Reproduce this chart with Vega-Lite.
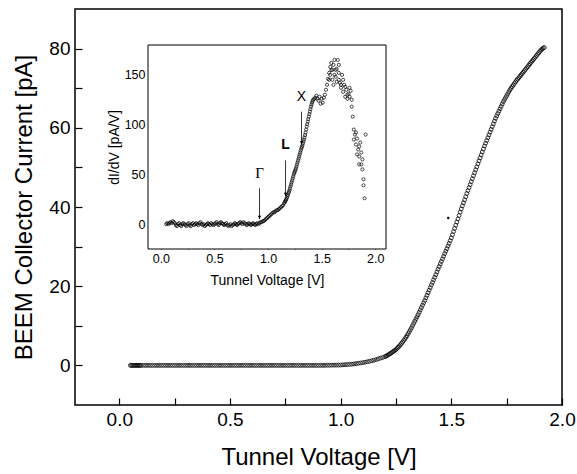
{
  "$schema": "https://vega.github.io/schema/vega-lite/v6.json",
  "width": 487,
  "height": 396,
  "autosize": "none",
  "padding": {"left": 75, "top": 9, "right": 15, "bottom": 69},
  "background": "white",
  "config": {
    "font": "Liberation Sans",
    "view": {"stroke": "black", "strokeWidth": 1.5},
    "axis": {"grid": false, "domain": false, "tickColor": "black", "labelColor": "black", "titleColor": "black", "titleFontWeight": "normal", "tickWidth": 1.2}
  },
  "datasets": {
    "main": [
      {"v":0.05,"i":0},{"v":0.055,"i":0},{"v":0.06,"i":0},{"v":0.065,"i":0},{"v":0.07,"i":0},{"v":0.075,"i":0},{"v":0.08,"i":0},{"v":0.085,"i":0},{"v":0.09,"i":0},{"v":0.095,"i":0},
      {"v":0.10,"i":0},{"v":0.11,"i":0},{"v":0.12,"i":0},{"v":0.13,"i":0},{"v":0.14,"i":0},
      {"v":0.15,"i":0},{"v":0.16,"i":0},{"v":0.17,"i":0},{"v":0.18,"i":0},{"v":0.19,"i":0},{"v":0.20,"i":0},{"v":0.21,"i":0},{"v":0.22,"i":0},{"v":0.23,"i":0},{"v":0.24,"i":0},
      {"v":0.25,"i":0},{"v":0.26,"i":0},{"v":0.27,"i":0},{"v":0.28,"i":0},{"v":0.29,"i":0},{"v":0.30,"i":0},{"v":0.31,"i":0},{"v":0.32,"i":0},{"v":0.33,"i":0},{"v":0.34,"i":0},
      {"v":0.35,"i":0},{"v":0.36,"i":0},{"v":0.37,"i":0},{"v":0.38,"i":0},{"v":0.39,"i":0},{"v":0.40,"i":0},{"v":0.41,"i":0},{"v":0.42,"i":0},{"v":0.43,"i":0},{"v":0.44,"i":0},
      {"v":0.45,"i":0},{"v":0.46,"i":0},{"v":0.47,"i":0},{"v":0.48,"i":0},{"v":0.49,"i":0},{"v":0.50,"i":0},{"v":0.51,"i":0},{"v":0.52,"i":0},{"v":0.53,"i":0},{"v":0.54,"i":0},
      {"v":0.55,"i":0},{"v":0.56,"i":0},{"v":0.57,"i":0},{"v":0.58,"i":0},{"v":0.59,"i":0},{"v":0.60,"i":0},{"v":0.61,"i":0},{"v":0.62,"i":0},{"v":0.63,"i":0},{"v":0.64,"i":0},
      {"v":0.65,"i":0},{"v":0.66,"i":0},{"v":0.67,"i":0},{"v":0.68,"i":0},{"v":0.69,"i":0},{"v":0.70,"i":0},{"v":0.71,"i":0},{"v":0.72,"i":0},{"v":0.73,"i":0},{"v":0.74,"i":0},
      {"v":0.75,"i":0},{"v":0.76,"i":0},{"v":0.77,"i":0},{"v":0.78,"i":0},{"v":0.79,"i":0},{"v":0.80,"i":0},{"v":0.81,"i":0},{"v":0.82,"i":0},{"v":0.83,"i":0},{"v":0.84,"i":0},
      {"v":0.85,"i":0},{"v":0.86,"i":0},{"v":0.87,"i":0},{"v":0.88,"i":0},{"v":0.89,"i":0},{"v":0.90,"i":0},{"v":0.91,"i":0},{"v":0.92,"i":0},{"v":0.93,"i":0.02},{"v":0.94,"i":0.03},
      {"v":0.95,"i":0.04},{"v":0.96,"i":0.05},{"v":0.97,"i":0.06},{"v":0.98,"i":0.07},{"v":0.99,"i":0.08},
      {"v":1.00,"i":0.1},{"v":1.01,"i":0.14},{"v":1.02,"i":0.18},{"v":1.03,"i":0.22},{"v":1.04,"i":0.26},{"v":1.05,"i":0.3},{"v":1.06,"i":0.37},{"v":1.07,"i":0.45},{"v":1.08,"i":0.53},{"v":1.09,"i":0.61},
      {"v":1.10,"i":0.7},{"v":1.11,"i":0.8},{"v":1.12,"i":0.92},{"v":1.13,"i":1.04},{"v":1.14,"i":1.17},{"v":1.15,"i":1.3},{"v":1.16,"i":1.46},{"v":1.17,"i":1.64},{"v":1.18,"i":1.83},{"v":1.19,"i":2.0},
      {"v":1.200,"i":2.2},{"v":1.205,"i":2.35},{"v":1.21,"i":2.5},{"v":1.215,"i":2.67},{"v":1.22,"i":2.85},{"v":1.225,"i":3.02},{"v":1.23,"i":3.2},{"v":1.235,"i":3.4},{"v":1.24,"i":3.6},{"v":1.245,"i":3.8},
      {"v":1.25,"i":4.0},{"v":1.255,"i":4.3},{"v":1.26,"i":4.6},{"v":1.265,"i":4.9},{"v":1.27,"i":5.2},{"v":1.275,"i":5.55},{"v":1.28,"i":5.9},{"v":1.285,"i":6.3},{"v":1.29,"i":6.7},{"v":1.295,"i":7.1},
      {"v":1.30,"i":7.5},{"v":1.305,"i":8.0},{"v":1.31,"i":8.5},{"v":1.315,"i":9.0},{"v":1.32,"i":9.5},{"v":1.325,"i":10.05},{"v":1.33,"i":10.6},{"v":1.335,"i":11.15},{"v":1.34,"i":11.7},{"v":1.345,"i":12.25},
      {"v":1.35,"i":12.8},{"v":1.355,"i":13.4},{"v":1.36,"i":14.0},{"v":1.365,"i":14.6},{"v":1.37,"i":15.2},{"v":1.375,"i":15.8},{"v":1.38,"i":16.4},{"v":1.385,"i":17.05},{"v":1.39,"i":17.7},{"v":1.395,"i":18.35},
      {"v":1.40,"i":19.0},{"v":1.405,"i":19.65},{"v":1.41,"i":20.3},{"v":1.415,"i":20.95},{"v":1.42,"i":21.6},{"v":1.425,"i":22.25},{"v":1.43,"i":22.9},{"v":1.435,"i":23.6},{"v":1.44,"i":24.3},{"v":1.445,"i":24.95},
      {"v":1.45,"i":25.6},{"v":1.455,"i":26.25},{"v":1.46,"i":26.9},{"v":1.465,"i":27.55},{"v":1.47,"i":28.2},{"v":1.475,"i":28.85},{"v":1.48,"i":29.5},{"v":1.485,"i":30.15},{"v":1.49,"i":30.8},{"v":1.495,"i":31.5},
      {"v":1.50,"i":32.2},{"v":1.505,"i":33.0},{"v":1.51,"i":33.8},{"v":1.515,"i":34.6},{"v":1.52,"i":35.4},{"v":1.525,"i":36.2},{"v":1.53,"i":37.0},{"v":1.535,"i":37.85},{"v":1.54,"i":38.7},{"v":1.545,"i":39.5},
      {"v":1.55,"i":40.3},{"v":1.555,"i":41.05},{"v":1.56,"i":41.8},{"v":1.565,"i":42.6},{"v":1.57,"i":43.4},{"v":1.575,"i":44.15},{"v":1.58,"i":44.9},{"v":1.585,"i":45.65},{"v":1.59,"i":46.4},{"v":1.595,"i":47.15},
      {"v":1.60,"i":47.9},{"v":1.605,"i":48.65},{"v":1.61,"i":49.4},{"v":1.615,"i":50.15},{"v":1.62,"i":50.9},{"v":1.625,"i":51.65},{"v":1.63,"i":52.4},{"v":1.635,"i":53.15},{"v":1.64,"i":53.9},{"v":1.645,"i":54.65},
      {"v":1.65,"i":55.4},{"v":1.655,"i":56.1},{"v":1.66,"i":56.8},{"v":1.665,"i":57.5},{"v":1.67,"i":58.2},{"v":1.675,"i":58.9},{"v":1.68,"i":59.6},{"v":1.685,"i":60.3},{"v":1.69,"i":61.0},{"v":1.695,"i":61.7},
      {"v":1.70,"i":62.4},{"v":1.705,"i":63.0},{"v":1.71,"i":63.6},{"v":1.715,"i":64.2},{"v":1.72,"i":64.8},{"v":1.725,"i":65.4},{"v":1.73,"i":66.0},{"v":1.735,"i":66.6},{"v":1.74,"i":67.1},{"v":1.745,"i":67.6},
      {"v":1.75,"i":68.1},{"v":1.755,"i":68.6},{"v":1.76,"i":69.1},{"v":1.765,"i":69.6},{"v":1.77,"i":70.0},{"v":1.775,"i":70.4},{"v":1.78,"i":70.8},{"v":1.785,"i":71.2},{"v":1.79,"i":71.6},{"v":1.795,"i":72.0},
      {"v":1.80,"i":72.3},{"v":1.805,"i":72.65},{"v":1.81,"i":73.0},{"v":1.815,"i":73.35},{"v":1.82,"i":73.7},{"v":1.825,"i":74.05},{"v":1.83,"i":74.4},{"v":1.835,"i":74.75},{"v":1.84,"i":75.1},{"v":1.845,"i":75.45},
      {"v":1.85,"i":75.8},{"v":1.855,"i":76.15},{"v":1.86,"i":76.5},{"v":1.865,"i":76.85},{"v":1.87,"i":77.2},{"v":1.875,"i":77.55},{"v":1.88,"i":77.9},{"v":1.885,"i":78.25},{"v":1.89,"i":78.6},{"v":1.895,"i":78.95},
      {"v":1.90,"i":79.3},{"v":1.905,"i":79.6},{"v":1.91,"i":79.9},{"v":1.915,"i":80.1},{"v":1.92,"i":80.3}
    ],
    "inset": [
      {"v":0.05,"g":0},{"v":0.06,"g":1},{"v":0.07,"g":0},{"v":0.08,"g":1},{"v":0.09,"g":2},{"v":0.10,"g":1},{"v":0.11,"g":3},{"v":0.12,"g":2},{"v":0.13,"g":1},{"v":0.14,"g":-1},
      {"v":0.15,"g":-2},{"v":0.16,"g":0},{"v":0.17,"g":1},{"v":0.18,"g":-1},{"v":0.19,"g":-2},{"v":0.20,"g":0},{"v":0.21,"g":1},{"v":0.22,"g":0},{"v":0.23,"g":-1},{"v":0.24,"g":-2},
      {"v":0.25,"g":0},{"v":0.26,"g":1},{"v":0.27,"g":-1},{"v":0.28,"g":-2},{"v":0.29,"g":0},{"v":0.30,"g":1},{"v":0.31,"g":-1},{"v":0.32,"g":0},{"v":0.33,"g":1},{"v":0.34,"g":0},
      {"v":0.35,"g":-1},{"v":0.36,"g":1},{"v":0.37,"g":2},{"v":0.38,"g":0},{"v":0.39,"g":-1},{"v":0.40,"g":0},{"v":0.41,"g":-2},{"v":0.42,"g":-1},{"v":0.43,"g":0},{"v":0.44,"g":1},
      {"v":0.45,"g":0},{"v":0.46,"g":-1},{"v":0.47,"g":1},{"v":0.48,"g":0},{"v":0.49,"g":-1},{"v":0.50,"g":0},{"v":0.51,"g":1},{"v":0.52,"g":2},{"v":0.53,"g":0},{"v":0.54,"g":-1},
      {"v":0.55,"g":1},{"v":0.56,"g":2},{"v":0.57,"g":1},{"v":0.58,"g":0},{"v":0.59,"g":-1},{"v":0.60,"g":0},{"v":0.61,"g":1},{"v":0.62,"g":-1},{"v":0.63,"g":-2},{"v":0.64,"g":-1},
      {"v":0.65,"g":0},{"v":0.66,"g":-2},{"v":0.67,"g":-1},{"v":0.68,"g":0},{"v":0.69,"g":1},{"v":0.70,"g":0},{"v":0.71,"g":-1},{"v":0.72,"g":0},{"v":0.73,"g":1},{"v":0.74,"g":2},
      {"v":0.75,"g":1},{"v":0.76,"g":0},{"v":0.77,"g":2},{"v":0.78,"g":1},{"v":0.79,"g":0},{"v":0.80,"g":-1},{"v":0.81,"g":0},{"v":0.82,"g":1},{"v":0.83,"g":0},{"v":0.84,"g":-1},
      {"v":0.85,"g":0},{"v":0.86,"g":1},{"v":0.87,"g":0},{"v":0.88,"g":-1},{"v":0.89,"g":0},{"v":0.90,"g":1},{"v":0.91,"g":0},{"v":0.92,"g":1},{"v":0.93,"g":2},{"v":0.94,"g":2},
      {"v":0.95,"g":3},{"v":0.96,"g":3},{"v":0.97,"g":4},{"v":0.98,"g":5},{"v":0.99,"g":6},{"v":1.00,"g":7},{"v":1.01,"g":8},{"v":1.02,"g":9},{"v":1.03,"g":10},{"v":1.04,"g":11},
      {"v":1.05,"g":12},{"v":1.06,"g":12},{"v":1.07,"g":13},{"v":1.08,"g":14},{"v":1.09,"g":14},{"v":1.10,"g":15},{"v":1.11,"g":16},{"v":1.12,"g":17},{"v":1.13,"g":18},{"v":1.14,"g":19},
      {"v":1.15,"g":21},{"v":1.16,"g":23},{"v":1.17,"g":25},{"v":1.18,"g":28},{"v":1.19,"g":31},{"v":1.20,"g":34},{"v":1.21,"g":38},{"v":1.22,"g":42},{"v":1.23,"g":46},{"v":1.24,"g":50},
      {"v":1.25,"g":53},{"v":1.26,"g":56},{"v":1.27,"g":60},{"v":1.28,"g":64},{"v":1.29,"g":68},{"v":1.30,"g":72},{"v":1.31,"g":76},{"v":1.32,"g":79},{"v":1.33,"g":83},{"v":1.34,"g":87},
      {"v":1.35,"g":92},{"v":1.36,"g":98},{"v":1.37,"g":103},{"v":1.38,"g":108},{"v":1.39,"g":113},{"v":1.40,"g":118},{"v":1.41,"g":122},{"v":1.42,"g":125},{"v":1.43,"g":126},{"v":1.44,"g":127},
      {"v":1.155,"g":22},{"v":1.165,"g":24},{"v":1.175,"g":26.5},{"v":1.185,"g":29.5},{"v":1.195,"g":32.5},{"v":1.205,"g":36},{"v":1.215,"g":40},{"v":1.225,"g":44},{"v":1.235,"g":48},{"v":1.245,"g":51.5},
      {"v":1.255,"g":54.5},{"v":1.265,"g":58},{"v":1.275,"g":62},{"v":1.285,"g":66},{"v":1.295,"g":70},{"v":1.305,"g":74},{"v":1.315,"g":77.5},{"v":1.325,"g":81},{"v":1.335,"g":85},{"v":1.345,"g":89.5},
      {"v":1.355,"g":95},{"v":1.365,"g":100.5},{"v":1.375,"g":105.5},{"v":1.385,"g":110.5},{"v":1.395,"g":115.5},{"v":1.405,"g":120},{"v":1.415,"g":123.5},
      {"v":1.45,"g":129},{"v":1.46,"g":126},{"v":1.47,"g":124},{"v":1.48,"g":128},{"v":1.49,"g":121},{"v":1.50,"g":126},{"v":1.51,"g":122},{"v":1.52,"g":127},{"v":1.53,"g":130},{"v":1.54,"g":135},
      {"v":1.55,"g":140},{"v":1.56,"g":146},{"v":1.57,"g":152},{"v":1.58,"g":158},{"v":1.59,"g":162},{"v":1.60,"g":155},{"v":1.61,"g":160},{"v":1.62,"g":150},{"v":1.63,"g":148},{"v":1.64,"g":156},
      {"v":1.65,"g":165},{"v":1.66,"g":145},{"v":1.67,"g":142},{"v":1.68,"g":137},{"v":1.69,"g":150},{"v":1.70,"g":133},{"v":1.71,"g":140},{"v":1.72,"g":128},{"v":1.73,"g":135},{"v":1.74,"g":126},
      {"v":1.75,"g":131},{"v":1.76,"g":137},{"v":1.77,"g":134},{"v":1.78,"g":125},{"v":1.79,"g":108},{"v":1.80,"g":95},{"v":1.81,"g":90},{"v":1.82,"g":80},{"v":1.83,"g":86},{"v":1.84,"g":75},
      {"v":1.85,"g":68},{"v":1.86,"g":82},{"v":1.87,"g":60},{"v":1.88,"g":55},{"v":1.89,"g":45},{"v":1.90,"g":26},{"v":1.91,"g":90},
      {"v":1.58,"g":150},{"v":1.60,"g":145},{"v":1.61,"g":140},{"v":1.63,"g":155},{"v":1.64,"g":143},{"v":1.66,"g":152},{"v":1.68,"g":140},{"v":1.70,"g":145},{"v":1.72,"g":138},{"v":1.74,"g":130},
      {"v":1.76,"g":128},{"v":1.78,"g":118},{"v":1.80,"g":85},{"v":1.82,"g":92},{"v":1.83,"g":70},{"v":1.85,"g":78},{"v":1.87,"g":72},{"v":1.88,"g":65},{"v":1.89,"g":39},{"v":1.85,"g":60},
      {"v":1.62,"g":165},{"v":1.66,"g":160},{"v":1.57,"g":145},{"v":1.59,"g":155}
    ],
    "arrows": [
      {"v":0.92,"top":36,"tip":5,"lab":"Γ","ly":43},
      {"v":1.163,"top":64,"tip":28,"lab":"L","ly":72},
      {"v":1.312,"top":113,"tip":80,"lab":"X","ly":121}
    ]
  },
  "layer": [
    {
      "layer": [
        {
          "data": {"name": "main"},
          "mark": {"type": "point", "shape": "circle", "filled": false, "size": 15, "strokeWidth": 0.75, "color": "black", "opacity": 1},
          "encoding": {
            "x": {"field": "v", "type": "quantitative",
              "scale": {"domain": [-0.2, 2.0], "nice": false, "zero": false},
              "axis": {"orient": "bottom", "title": "Tunnel Voltage [V]", "values": [0,0.25,0.5,0.75,1,1.25,1.5,1.75,2],
                "labelExpr": "datum.value % 0.5 == 0 ? format(datum.value, '.1f') : ''",
                "tickSize": -7, "labelPadding": 12, "labelFontSize": 19, "titleFontSize": 24, "titlePadding": 16, "labelFlush": false}},
            "y": {"field": "i", "type": "quantitative",
              "scale": {"domain": [-10, 90], "nice": false, "zero": false},
              "axis": {"orient": "left", "title": "BEEM Collector Current [pA]", "values": [0,10,20,30,40,50,60,70,80],
                "labelExpr": "datum.value % 20 == 0 ? datum.label : ''",
                "tickSize": -7, "labelPadding": 12, "labelFontSize": 19, "titleFontSize": 24, "titlePadding": 12}}
          }
        },
        {
          "data": {"values": [{"v": 1.486, "i": 37.2}]},
          "mark": {"type": "point", "shape": "circle", "filled": true, "size": 6, "color": "black", "opacity": 1},
          "encoding": {
            "x": {"field": "v", "type": "quantitative"},
            "y": {"field": "i", "type": "quantitative"}
          }
        }
      ]
    },
    {
      "layer": [
        {
          "data": {"values": [{"x1": -0.12, "x2": 2.1, "y1": -25, "y2": 180}]},
          "mark": {"type": "rect", "fill": "white", "stroke": "black", "strokeWidth": 1},
          "encoding": {
            "x": {"field": "x1", "type": "quantitative",
              "scale": {"domain": [-0.12, 2.1], "range": [73, 311], "nice": false, "zero": false},
              "axis": {"orient": "bottom", "offset": -156, "title": "Tunnel Voltage [V]", "values": [0,0.25,0.5,0.75,1,1.25,1.5,1.75,2],
                "labelExpr": "datum.value % 0.5 == 0 ? format(datum.value, '.1f') : ''",
                "tickSize": -4, "labelPadding": 7, "labelFontSize": 12.5, "titleFontSize": 14, "titlePadding": 9, "labelFlush": false}},
            "x2": {"field": "x2"},
            "y": {"field": "y1", "type": "quantitative",
              "scale": {"domain": [-25, 180], "range": [240, 36], "nice": false, "zero": false},
              "axis": {"orient": "left", "offset": -73, "title": "dI/dV [pA/V]", "values": [0,25,50,75,100,125,150,175],
                "labelExpr": "datum.value % 50 == 0 ? datum.label : ''",
                "tickSize": -4, "labelPadding": 7, "labelFontSize": 12.5, "titleFontSize": 14, "titlePadding": 3}},
            "y2": {"field": "y2"}
          }
        },
        {
          "data": {"name": "inset"},
          "mark": {"type": "point", "shape": "circle", "filled": false, "size": 10, "strokeWidth": 0.7, "color": "black", "opacity": 1},
          "encoding": {
            "x": {"field": "v", "type": "quantitative"},
            "y": {"field": "g", "type": "quantitative"}
          }
        },
        {
          "data": {"name": "arrows"},
          "mark": {"type": "rule", "color": "black", "strokeWidth": 0.8},
          "encoding": {
            "x": {"field": "v", "type": "quantitative"},
            "y": {"field": "top", "type": "quantitative"},
            "y2": {"field": "tip"}
          }
        },
        {
          "data": {"name": "arrows"},
          "mark": {"type": "point", "shape": "triangle-down", "filled": true, "size": 12, "color": "black", "opacity": 1, "yOffset": -2},
          "encoding": {
            "x": {"field": "v", "type": "quantitative"},
            "y": {"field": "tip", "type": "quantitative"}
          }
        },
        {
          "data": {"name": "arrows"},
          "transform": [{"filter": "datum.lab == 'X'"}],
          "mark": {"type": "text", "fontSize": 14, "baseline": "bottom", "color": "black", "font": "Liberation Sans"},
          "encoding": {
            "x": {"field": "v", "type": "quantitative"},
            "y": {"field": "ly", "type": "quantitative"},
            "text": {"field": "lab"}
          }
        },
        {
          "data": {"name": "arrows"},
          "transform": [{"filter": "datum.lab == 'L'"}],
          "mark": {"type": "text", "fontSize": 14, "fontWeight": "bold", "baseline": "bottom", "color": "black", "font": "Liberation Sans"},
          "encoding": {
            "x": {"field": "v", "type": "quantitative"},
            "y": {"field": "ly", "type": "quantitative"},
            "text": {"field": "lab"}
          }
        },
        {
          "data": {"name": "arrows"},
          "transform": [{"filter": "datum.lab == 'Γ'"}],
          "mark": {"type": "text", "fontSize": 15, "baseline": "bottom", "color": "black", "font": "Liberation Serif"},
          "encoding": {
            "x": {"field": "v", "type": "quantitative"},
            "y": {"field": "ly", "type": "quantitative"},
            "text": {"field": "lab"}
          }
        }
      ]
    }
  ],
  "resolve": {"scale": {"x": "independent", "y": "independent"}, "axis": {"x": "independent", "y": "independent"}}
}
